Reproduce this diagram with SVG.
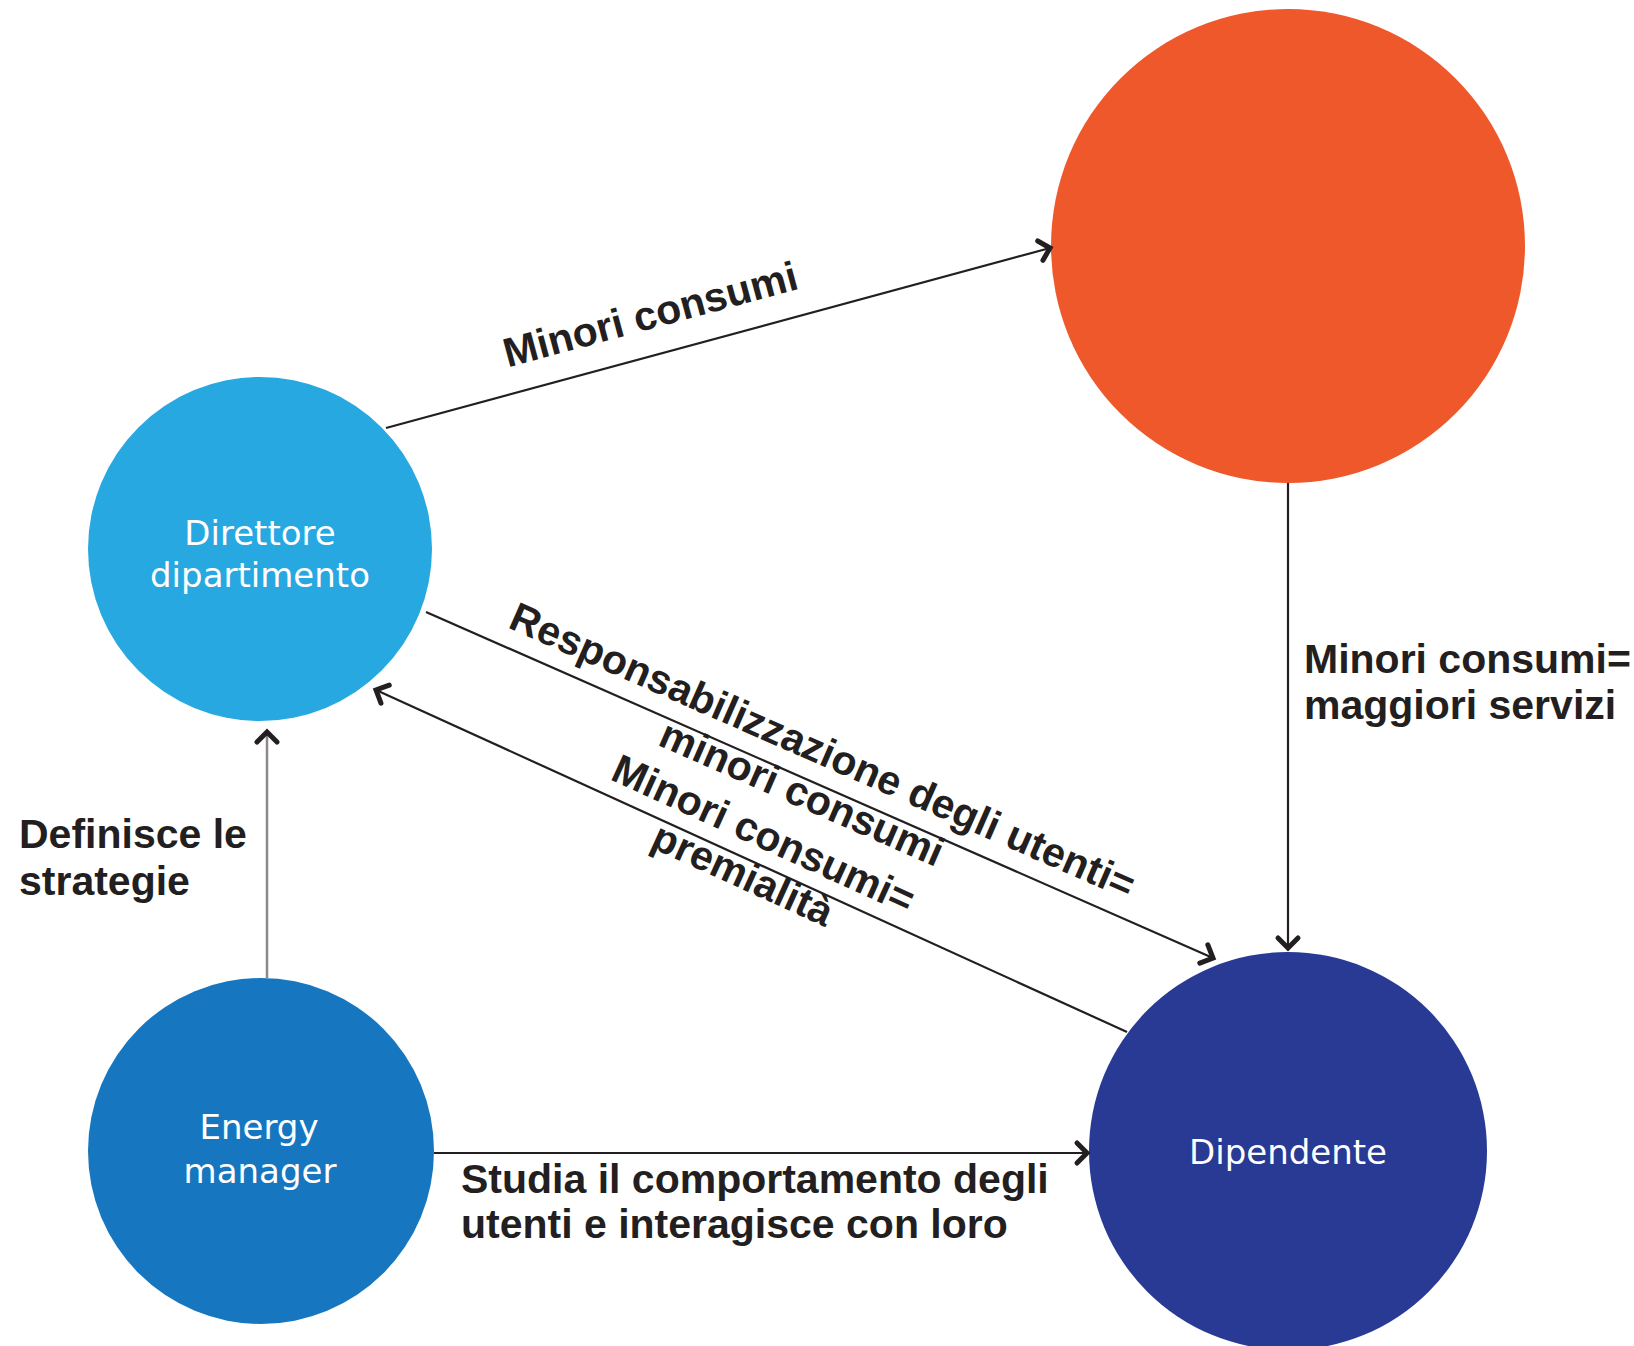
<svg xmlns="http://www.w3.org/2000/svg" width="1634" height="1346" viewBox="0 0 1634 1346">
  <style>
    .lbl { font-family: "Liberation Sans", Arial, sans-serif; font-weight: bold; font-size: 41px; fill: #231f20; }
    .node-text { font-family: "DejaVu Sans", "Liberation Sans", sans-serif; font-size: 34px; fill: #ffffff; text-anchor: middle; }
    .conn { stroke: #231f20; stroke-width: 2.2; fill: none; marker-end: url(#arrow); }
    .conn-grey { stroke: #8a8a8a; stroke-width: 2.5; fill: none; marker-end: url(#arrow); }
  </style>
  <defs>
    <marker id="arrow" viewBox="-16 -14 20 28" refX="0" refY="0" markerWidth="20" markerHeight="28" markerUnits="userSpaceOnUse" orient="auto">
      <path d="M -10 -10 L 0 0 L -10 10" fill="none" stroke="#231f20" stroke-width="5" stroke-linecap="round" stroke-linejoin="miter"/>
    </marker>
  </defs>
  <rect width="1634" height="1346" fill="#ffffff"/>

  <g id="node-ente">
    <circle cx="1288" cy="246" r="237" fill="#ef582b"/>
  </g>
  <g id="node-direttore">
    <circle cx="260" cy="549" r="172" fill="#27a8e0"/>
    <text class="node-text" x="260" y="545">Direttore</text>
    <text class="node-text" x="260" y="587">dipartimento</text>
  </g>
  <g id="node-energy-manager">
    <circle cx="261" cy="1151" r="173" fill="#1677c0"/>
    <text class="node-text" x="259" y="1139">Energy</text>
    <text class="node-text" x="260" y="1183">manager</text>
  </g>
  <g id="node-dipendente">
    <circle cx="1288" cy="1151" r="199" fill="#283a94"/>
    <text class="node-text" x="1288" y="1164">Dipendente</text>
  </g>

  <g id="connectors">
    <line class="conn" x1="386" y1="428" x2="1050" y2="248"/>
    <line class="conn" x1="1288" y1="483" x2="1288" y2="948"/>
    <line class="conn" x1="426" y1="612" x2="1213" y2="958"/>
    <line class="conn" x1="1127" y1="1032" x2="376" y2="690"/>
    <line class="conn-grey" x1="267" y1="978" x2="267" y2="732"/>
    <line class="conn" x1="434" y1="1153" x2="1087" y2="1153"/>
  </g>

  <g id="labels">
    <text class="lbl" text-anchor="middle" transform="translate(654,328) rotate(-15.1)">Minori consumi</text>
    <g transform="translate(818.5,785) rotate(23.7)">
      <text class="lbl" text-anchor="middle" x="-10" y="-19">Responsabilizzazione degli utenti=</text>
      <text class="lbl" text-anchor="middle" x="-12" y="28">minori consumi</text>
    </g>
    <g transform="translate(751.5,860.5) rotate(24.5)">
      <text class="lbl" text-anchor="middle" x="0" y="-15">Minori consumi=</text>
      <text class="lbl" text-anchor="middle" x="-2" y="30">premialità</text>
    </g>
    <text class="lbl" x="1304" y="673">Minori consumi=</text>
    <text class="lbl" x="1304" y="719">maggiori servizi</text>
    <text class="lbl" x="19" y="848">Definisce le</text>
    <text class="lbl" x="19" y="895">strategie</text>
    <text class="lbl" x="461" y="1193">Studia il comportamento degli</text>
    <text class="lbl" x="461" y="1238">utenti e interagisce con loro</text>
  </g>
</svg>
